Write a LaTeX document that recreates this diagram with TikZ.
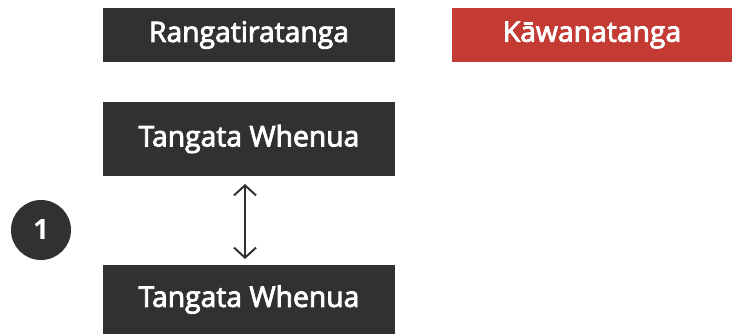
\documentclass[tikz,border=0pt]{standalone}
\usepackage{fontspec}
\setmainfont{Open Sans}
\newfontfamily\boxfont{Open Sans}[FakeBold=3]
\usetikzlibrary{arrows.meta}
\definecolor{darkbox}{HTML}{333031}
\definecolor{redbox}{HTML}{C33B33}

\begin{document}
\begin{tikzpicture}[x=1pt,y=-1pt,line width=2pt,>={Straight Barb[length=10pt,width=22pt]},
  box/.style={fill=darkbox,text=white,inner sep=0pt,minimum width=292pt,font=\boxfont\fontsize{28.3}{32}\selectfont},
  num/.style={circle,fill=darkbox,text=white,inner sep=0pt,minimum size=60pt,font=\fontsize{28}{32}\selectfont\bfseries}]
  \useasboundingbox (0,0) rectangle (732,334);
  % --- top row ---
  \node[box,minimum height=54pt] (rang) at (249,35) {Rangatiratanga};
  \node[box,fill=redbox,minimum width=280pt,minimum height=54pt] (kawa) at (592,35) {Kāwanatanga};
  % --- the two Tangata Whenua ---
  \node[box,minimum height=74pt] (tw1) at (249,139) {Tangata Whenua};
  \node[box,minimum height=69pt] (tw2) at (249,299.5) {Tangata Whenua};
  % --- number ---
  \node[num] (one) at (41,230) {1};
  % arrow between them
  \draw[<->,darkbox] ([xshift=-4pt,yshift=-7pt]tw1.south) -- ([xshift=-4pt,yshift=5pt]tw2.north);
\end{tikzpicture}
\end{document}
